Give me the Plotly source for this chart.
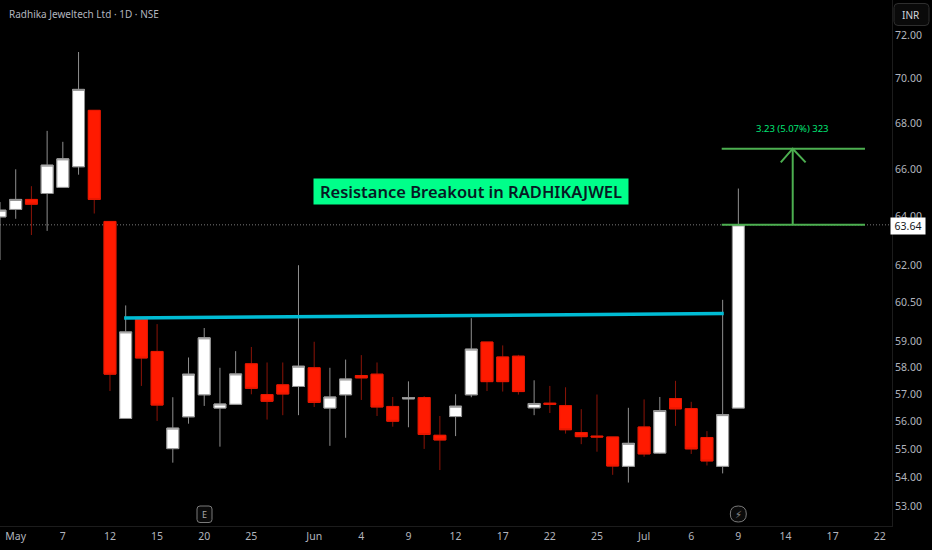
import numpy as np
import plotly.graph_objects as go

sessions = list(range(48))
opens = [63.97, 64.28, 64.70, 64.95, 65.21, 66.09, 68.56, 63.78, 56.11, 59.85, 58.61, 55.02,
         56.17, 56.98, 56.49, 56.63, 58.14, 56.99, 57.35, 57.29, 57.99, 56.49, 56.98, 57.70,
         57.75, 56.55, 56.83, 56.88, 55.50, 56.18, 56.98, 58.97, 58.40, 58.43, 56.50, 56.67,
         56.58, 55.60, 55.47, 55.44, 54.39, 55.80, 54.86, 56.84, 56.47, 55.42, 54.39, 56.49]
highs = [64.59, 65.98, 65.26, 67.65, 67.17, 71.21, 68.56, 63.78, 60.39, 59.85, 59.66, 56.89,
         58.38, 59.51, 57.99, 58.62, 58.78, 58.19, 58.19, 61.99, 58.98, 57.99, 58.30, 58.47,
         58.19, 56.90, 57.48, 56.93, 56.20, 57.00, 59.89, 58.97, 58.84, 58.48, 57.52, 57.31,
         57.26, 56.45, 56.99, 55.44, 56.50, 56.81, 56.90, 57.50, 56.72, 55.65, 60.61, 65.16]
lows = [62.20, 63.89, 63.22, 63.39, 65.21, 65.75, 64.11, 57.12, 56.11, 57.31, 56.02, 54.52,
        55.92, 56.57, 55.09, 56.63, 57.00, 56.07, 56.23, 56.23, 56.53, 55.12, 55.41, 56.79,
        56.20, 55.81, 55.79, 55.01, 54.26, 55.47, 56.89, 57.12, 57.10, 56.99, 56.23, 56.31,
        55.56, 55.18, 54.91, 54.09, 53.82, 54.73, 54.83, 55.84, 54.83, 54.42, 54.14, 56.49]
closes = [64.25, 64.70, 64.50, 66.16, 66.43, 69.50, 64.70, 57.75, 59.36, 58.36, 56.60, 55.76,
          57.75, 59.13, 56.64, 57.76, 57.22, 56.74, 57.01, 58.05, 56.70, 56.90, 57.57, 57.61,
          56.53, 56.01, 56.88, 55.53, 55.33, 56.56, 58.70, 57.47, 57.47, 57.10, 56.66, 56.63,
          55.70, 55.45, 55.44, 54.40, 55.21, 54.83, 56.40, 56.46, 55.01, 54.58, 56.25, 63.64]

x_ticks = [1, 4, 7, 10, 13, 16, 20, 23, 26, 29, 32, 35, 38, 41, 44, 47, 50, 53, 56]
x_labels = ["May", "7", "12", "15", "20", "25", "Jun", "4", "9", "12", "17", "22", "25",
            "Jul", "6", "9", "14", "17", "22"]
y_ticks = [72, 70, 68, 66, 64, 62, 60.5, 59, 58, 57, 56, 55, 54, 53]
y_labels = ["72.00", "70.00", "68.00", "66.00", "64.00", "62.00", "60.50", "59.00", "58.00",
            "57.00", "56.00", "55.00", "54.00", "53.00"]

last_price = 63.64

# drawings on top of the candles
resistance_x = [7.9, 46.07]
resistance_y = [59.90, 60.07]
target_x = [45.94, 55.06]
target_low = 63.64
target_high = 66.87
arrow_x = [50.46, 50.46]
arrow_head_x = [49.70, 50.46, 51.28]
arrow_head_y = [66.28, 66.87, 66.28]

PLOT_W = 892
PLOT_H = 526
GREY = "#b2b5be"
GREEN = "#4caf50"
FONT = "Noto Sans"


def px(x):
    return x / PLOT_W


def py(y):
    return 1 - y / PLOT_H


def rounded_box(x0, y0, x1, y1, r):
    return (
        f"M {px(x0 + r)} {py(y0)} L {px(x1 - r)} {py(y0)} Q {px(x1)} {py(y0)} {px(x1)} {py(y0 + r)} "
        f"L {px(x1)} {py(y1 - r)} Q {px(x1)} {py(y1)} {px(x1 - r)} {py(y1)} "
        f"L {px(x0 + r)} {py(y1)} Q {px(x0)} {py(y1)} {px(x0)} {py(y1 - r)} "
        f"L {px(x0)} {py(y0 + r)} Q {px(x0)} {py(y0)} {px(x0 + r)} {py(y0)} Z"
    )


fig = go.Figure()

# wicks are darker than the bodies, one candlestick trace can't do both
fig.add_trace(
    go.Candlestick(
        x=sessions,
        open=opens,
        high=highs,
        low=lows,
        close=closes,
        increasing=dict(line=dict(color="#8f8f8f", width=1), fillcolor="#ffffff"),
        decreasing=dict(line=dict(color="#8c1408", width=1), fillcolor="#ff1a00"),
        whiskerwidth=0,
    )
)
fig.add_trace(
    go.Candlestick(
        x=sessions,
        open=opens,
        high=[max(o, c) for o, c in zip(opens, closes)],
        low=[min(o, c) for o, c in zip(opens, closes)],
        close=closes,
        increasing=dict(line=dict(color="#8f8f8f", width=1), fillcolor="#ffffff"),
        decreasing=dict(line=dict(color="#e81800", width=1), fillcolor="#ff1a00"),
        whiskerwidth=0,
    )
)

fig.add_trace(
    go.Scatter(x=resistance_x, y=resistance_y, mode="lines", line=dict(color="#00bcd4", width=3.5))
)
fig.add_trace(
    go.Scatter(x=target_x, y=[target_low, target_low], mode="lines", line=dict(color=GREEN, width=2))
)
fig.add_trace(
    go.Scatter(x=target_x, y=[target_high, target_high], mode="lines", line=dict(color=GREEN, width=2))
)
fig.add_trace(
    go.Scatter(x=arrow_x, y=[target_low, target_high], mode="lines", line=dict(color=GREEN, width=2))
)
fig.add_trace(
    go.Scatter(x=arrow_head_x, y=arrow_head_y, mode="lines", line=dict(color=GREEN, width=2))
)

# last price line, under the candles
fig.add_shape(
    type="line", xref="paper", x0=0, x1=1, yref="y", y0=last_price, y1=last_price,
    line=dict(color="#7a7a7a", width=1, dash="1px,2px"), layer="below",
)

# INR button and the two event icons
fig.add_shape(
    type="path", xref="paper", yref="paper", path=rounded_box(894, 3.5, 929, 25.5, 4),
    line=dict(color="#2e2e2e", width=1), fillcolor="#0a0a0a",
)
fig.add_shape(
    type="path", xref="paper", yref="paper", path=rounded_box(197, 506, 212, 522.5, 3),
    line=dict(color="#7a7a7a", width=1), fillcolor="#0a0a0a",
)
fig.add_shape(
    type="path", xref="paper", yref="paper", path=rounded_box(730.3, 506, 746.3, 522, 8),
    line=dict(color="#7a7a7a", width=1), fillcolor="#0a0a0a",
)


def note(text, x, y, size, color, family=FONT, weight=400, xanchor="center", **kw):
    fig.add_annotation(
        text=text, xref="paper", yref="paper", x=px(x), y=py(y), showarrow=False,
        xanchor=xanchor, yanchor="middle",
        font=dict(family=family, size=size, color=color, weight=weight), **kw
    )


note("Radhika Jeweltech Ltd · 1D · NSE", 7, 14, 10, GREY, xanchor="left")
note("INR", 911.5, 14.5, 10, "#d1d4dc")
note("E", 204.5, 514.5, 9, "#a8a8a8")
note("⚡", 738.3, 514, 10, "#8a8a8a", family="DejaVu Sans")
note("63.64", 908, 225.5, 10.5, "#131722", bgcolor="#ffffff", width=34, height=16, borderpad=0)
note("Resistance Breakout in RADHIKAJWEL", 471, 191.5, 16.5, "#071a24", weight=600,
     bgcolor="#00ff8a", width=314, height=25, borderpad=0)
note("3.23 (5.07%) 323", 792.5, 129, 9.5, "#00e676")

fig.update_layout(
    width=932,
    height=550,
    margin=dict(l=0, r=40, t=0, b=24),
    paper_bgcolor="#000000",
    plot_bgcolor="#000000",
    showlegend=False,
    boxgap=0.24,
    boxgroupgap=0,
    font=dict(family=FONT, color=GREY, size=10.5),
)
fig.update_xaxes(
    range=[0, 56.78],
    rangeslider_visible=False,
    tickmode="array",
    tickvals=x_ticks,
    ticktext=x_labels,
    showgrid=False,
    zeroline=False,
    showline=True,
    linecolor="#1c1c1c",
    ticks="",
    tickfont=dict(size=10.5, color=GREY),
)
fig.update_yaxes(
    type="log",
    range=[np.log10(52.32), np.log10(73.66)],
    side="right",
    tickmode="array",
    tickvals=y_ticks,
    ticktext=y_labels,
    showgrid=False,
    zeroline=False,
    showline=True,
    linecolor="#1c1c1c",
    ticks="",
    tickfont=dict(size=10.5, color=GREY),
)

# the page default leaves an 8px white margin round the figure
fig.write_html(
    "out.html",
    config={"displayModeBar": False},
    post_script="document.body.style.margin='0';document.body.style.background='#000';"
    "document.body.style.overflow='hidden';",
)
